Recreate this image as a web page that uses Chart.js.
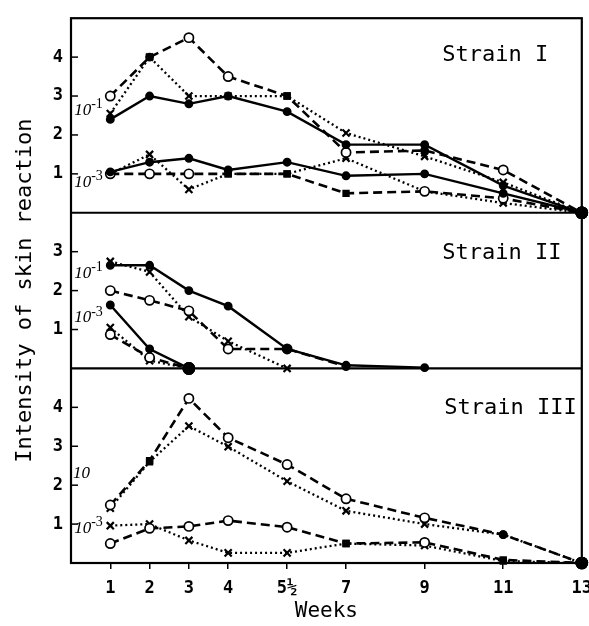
<!DOCTYPE html>
<html><head><meta charset="utf-8">
<script src="https://cdn.jsdelivr.net/npm/chart.js@4/dist/chart.umd.min.js"></script>
<style>html,body{margin:0;padding:0;background:#fff;}</style>
</head><body>
<canvas id="c" width="589" height="626"></canvas>
<script>
// ---------- data ----------
const weeks = [1, 2, 3, 4, 5.5, 7, 9, 11, 13];
const weekTickLabels = ['1', '2', '3', '4', '5½', '7', '9', '11', '13'];
const yTicksI = [1, 2, 3, 4];
const yTicksII = [1, 2, 3];
const yTicksIII = [1, 2, 3, 4];
const strainNames = ['Strain I', 'Strain II', 'Strain III'];
const yTitle = 'Intensity of skin reaction';
const xTitle = 'Weeks';

// Strain I
const s1HighSolid  = [2.4, 3.0, 2.8, 3.0, 2.6, 1.75, 1.75, 0.7, 0];
const s1HighDashed = [3.0, 4.0, 4.5, 3.5, 3.0, 1.55, 1.6, 1.1, 0];
const s1HighDotted = [2.55, 4.0, 3.0, 3.0, 3.0, 2.05, 1.45, 0.78, 0];
const s1LowSolid   = [1.05, 1.3, 1.4, 1.1, 1.3, 0.95, 1.0, 0.5, 0];
const s1LowDashed  = [1.0, 1.0, 1.0, 1.0, 1.0, 0.5, 0.55, 0.37, 0];
const s1LowDotted  = [1.0, 1.5, 0.6, 1.0, 1.0, 1.4, 0.55, 0.25, 0];
// Strain II
const s2HighSolid  = [2.65, 2.65, 2.0, 1.6, 0.5, 0.08, 0.02, null, null];
const s2HighDashed = [2.0, 1.75, 1.48, 0.5, 0.5, 0.05, null, null, null];
const s2HighDotted = [2.75, 2.48, 1.33, 0.7, 0.0, null, null, null, null];
const s2LowSolid   = [1.63, 0.5, 0.0, null, null, null, null, null, null];
const s2LowDashed  = [0.87, 0.28, 0.0, null, null, null, null, null, null];
const s2LowDotted  = [1.05, 0.2, 0.0, null, null, null, null, null, null];
// Strain III
const s3HighDashed = [1.49, 2.63, 4.23, 3.22, 2.53, 1.65, 1.16, 0.73, 0];
const s3HighDotted = [1.41, 2.6, 3.52, 2.99, 2.1, 1.34, 1.0, 0.73, 0];
const s3LowDashed  = [0.5, 0.89, 0.94, 1.09, 0.92, 0.5, 0.53, 0.08, 0];
const s3LowDotted  = [0.96, 1.0, 0.58, 0.26, 0.26, 0.5, 0.45, 0.05, 0];

// ---------- marker styles (o open circle, f filled circle, x cross, s filled square) ----------
const mk = {
  s1HS: 'fffffffff', s1HD: 'ofoosofof', s1HX: 'xxxssxxxf',
  s1LS: 'fffffffff', s1LD: 'ooosssoof', s1LX: 'xxxssxsxf',
  s2HS: 'fffffff', s2HD: 'oooooff', s2HX: 'xxxxx',
  s2LS: 'fff', s2LD: 'oof', s2LX: 'xxf',
  s3HD: 'osoooooff', s3HX: 'xsxxxxxff', s3LD: 'ooooososf', s3LX: 'xxxxxsxsf'
};

const LINE = {
  solid:  { borderDash: [], borderWidth: 2.4 },
  dashed: { borderDash: [9, 5], borderWidth: 2.6 },
  dotted: { borderDash: [2, 3], borderWidth: 2.3 }
};

function ptStyle(code) {
  return code === 'o' ? 'circle' : code === 'f' ? 'circle' : code === 'x' ? 'crossRot' : 'rect';
}
function ds(values, axis, line, codes) {
  return Object.assign({
    data: weeks.map((w, i) => ({ x: w, y: values[i] })),
    yAxisID: axis,
    borderColor: '#000',
    backgroundColor: '#000',
    tension: 0,
    spanGaps: false,
    clip: false,
    pointStyle: c => ptStyle(codes[c.dataIndex]),
    pointRadius: c => {
      const k = codes[c.dataIndex];
      if (c.dataIndex === 8 || (values[c.dataIndex + 1] === null && k === 'f' && values[c.dataIndex] === 0)) return 5.5;
      return k === 'o' ? 4.6 : k === 'f' ? 3.6 : k === 'x' ? 5 : 4;
    },
    pointBackgroundColor: c => codes[c.dataIndex] === 'o' ? '#fff' : '#000',
    pointBorderColor: '#000',
    pointBorderWidth: c => codes[c.dataIndex] === 'x' ? 2.2 : 1.7,
    pointHoverRadius: 0
  }, LINE[line]);
}

const datasets = [
  ds(s1HighSolid, 'yI', 'solid', mk.s1HS),
  ds(s1HighDashed, 'yI', 'dashed', mk.s1HD),
  ds(s1HighDotted, 'yI', 'dotted', mk.s1HX),
  ds(s1LowSolid, 'yI', 'solid', mk.s1LS),
  ds(s1LowDashed, 'yI', 'dashed', mk.s1LD),
  ds(s1LowDotted, 'yI', 'dotted', mk.s1LX),
  ds(s2HighSolid, 'yII', 'solid', mk.s2HS),
  ds(s2HighDashed, 'yII', 'dashed', mk.s2HD),
  ds(s2HighDotted, 'yII', 'dotted', mk.s2HX),
  ds(s2LowSolid, 'yII', 'solid', mk.s2LS),
  ds(s2LowDashed, 'yII', 'dashed', mk.s2LD),
  ds(s2LowDotted, 'yII', 'dotted', mk.s2LX),
  ds(s3HighDashed, 'yIII', 'dashed', mk.s3HD),
  ds(s3HighDotted, 'yIII', 'dotted', mk.s3HX),
  ds(s3LowDashed, 'yIII', 'dashed', mk.s3LD),
  ds(s3LowDotted, 'yIII', 'dotted', mk.s3LX)
];

// annotation anchors (data coordinates)
const strainAnchors = [
  { axis: 'yI', x: 9.45, y: 4.05 },
  { axis: 'yII', x: 9.45, y: 2.95 },
  { axis: 'yIII', x: 9.5, y: 3.97 }
];
const doseAnchors = [
  { axis: 'yI', x: 0.08, y: 2.62, base: '10', exp: '-1' },
  { axis: 'yI', x: 0.08, y: 0.78, base: '10', exp: '-3' },
  { axis: 'yII', x: 0.08, y: 2.45, base: '10', exp: '-1' },
  { axis: 'yII', x: 0.08, y: 1.3, base: '10', exp: '-3' },
  { axis: 'yIII', x: 0.05, y: 2.3, base: '10', exp: '' },
  { axis: 'yIII', x: 0.08, y: 0.88, base: '10', exp: '-3' }
];

const LETTER = "'DejaVu Sans Mono', monospace";
const TICKFONT = { family: "'DejaVu Sans Mono', monospace", size: 17, weight: 'bold' };

function yScale(min, max, weight, ticks) {
  return {
    type: 'linear', position: 'left', stack: 'panels', stackWeight: weight,
    min: min, max: max,
    grid: { display: false, drawTicks: false },
    border: { display: false },
    afterBuildTicks: s => { s.ticks = ticks.map(v => ({ value: v })); },
    afterFit: s => { s.width = 71; },
    ticks: { color: '#000', font: TICKFONT, padding: 8 }
  };
}

const framePlugin = {
  id: 'frame',
  afterDatasetsDraw(chart) {
    const ctx = chart.ctx, ca = chart.chartArea, xs = chart.scales.x;
    ctx.save();
    ctx.strokeStyle = '#000';
    ctx.lineWidth = 2.2;
    ctx.setLineDash([]);
    ctx.strokeRect(ca.left, ca.top, ca.right - ca.left, ca.bottom - ca.top);
    ['yII', 'yIII'].forEach(id => {
      const s = chart.scales[id];
      ctx.beginPath(); ctx.moveTo(ca.left, s.top); ctx.lineTo(ca.right, s.top); ctx.stroke();
    });
    // inward y ticks
    ctx.lineWidth = 1.5;
    [['yI', yTicksI], ['yII', yTicksII], ['yIII', yTicksIII]].forEach(([id, tv]) => {
      const s = chart.scales[id];
      tv.forEach(v => {
        const p = s.getPixelForValue(v);
        ctx.beginPath(); ctx.moveTo(ca.left, p); ctx.lineTo(ca.left + 7, p); ctx.stroke();
      });
    });
    // strain labels
    ctx.fillStyle = '#000';
    ctx.font = "22px " + LETTER;
    ctx.textAlign = 'left';
    ctx.textBaseline = 'middle';
    strainAnchors.forEach((a, i) => {
      ctx.fillText(strainNames[i], xs.getPixelForValue(a.x), chart.scales[a.axis].getPixelForValue(a.y));
    });
    // dose labels
    doseAnchors.forEach(a => {
      const px = xs.getPixelForValue(a.x), py = chart.scales[a.axis].getPixelForValue(a.y);
      ctx.font = "italic 17px 'Liberation Serif', serif";
      ctx.textBaseline = 'middle';
      ctx.fillText(a.base, px, py);
      const w = ctx.measureText(a.base).width;
      if (a.exp) {
        ctx.font = "14px 'Liberation Serif', serif";
        ctx.fillText(a.exp, px + w, py - 6);
      }
    });
    // y title
    ctx.font = "22px " + LETTER;
    ctx.textAlign = 'center';
    ctx.translate(25, (ca.top + ca.bottom) / 2);
    ctx.rotate(-Math.PI / 2);
    ctx.fillText(yTitle, 0, 0);
    ctx.restore();
  }
};

new Chart(document.getElementById('c'), {
  type: 'line',
  data: { datasets: datasets },
  plugins: [framePlugin],
  options: {
    responsive: false,
    animation: false,
    devicePixelRatio: 1,
    layout: { padding: { top: 8, right: 7, left: 0, bottom: 0 } },
    plugins: { legend: { display: false }, tooltip: { enabled: false } },
    scales: {
      x: {
        type: 'linear', position: 'bottom', min: 0, max: 13,
        grid: { display: true, drawOnChartArea: false, drawTicks: true, tickLength: 6, color: '#000', lineWidth: 1.5 },
        border: { display: false },
        afterBuildTicks: s => { s.ticks = weeks.map(v => ({ value: v })); },
        afterFit: s => { s.height = 63; s.paddingLeft = 0; s.paddingRight = 0; },
        ticks: { color: '#000', font: TICKFONT, padding: 9, maxRotation: 0, autoSkip: false,
          callback: (v, i) => weekTickLabels[i] },
        title: { display: true, text: xTitle, color: '#000', font: { family: "'DejaVu Sans Mono', monospace", size: 21 }, padding: { top: 0, bottom: 2 } }
      },
      yIII: yScale(0, 5, 5, yTicksIII),
      yII: yScale(0, 4, 4, yTicksII),
      yI: yScale(0, 5, 5, yTicksI)
    }
  }
});
</script>
</body></html>
